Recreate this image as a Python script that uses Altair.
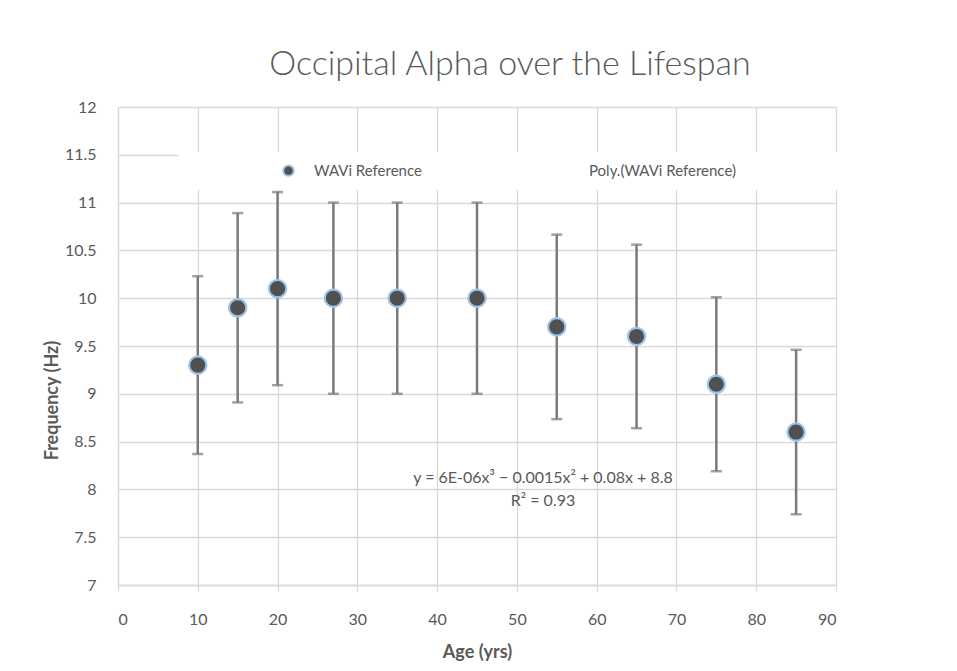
import altair as alt
import pandas as pd

# ---- data ----
ages = [10, 15, 20, 27, 35, 45, 55, 65, 75, 85]
freq = [9.3, 9.9, 10.1, 10.0, 10.0, 10.0, 9.7, 9.6, 9.1, 8.6]
err = [0.93, 0.99, 1.01, 1.0, 1.0, 1.0, 0.965, 0.96, 0.91, 0.86]
series_names = ["WAVi Reference", "Poly.(WAVi Reference)"]
x_ticks = list(range(0, 95, 5))
y_ticks = [7, 7.5, 8, 8.5, 9, 9.5, 10, 10.5, 11, 11.5, 12]
title_text = "Occipital Alpha over the Lifespan"
x_title = "Age (yrs)"
y_title = "Frequency (Hz)"
eq_line1 = "y = 6E-06x³ − 0.0015x² + 0.08x + 8.8"
eq_line2 = "R² = 0.93"

df = pd.DataFrame({
    "age": ages,
    "freq": freq,
    "lo": [f - e for f, e in zip(freq, err)],
    "hi": [f + e for f, e in zip(freq, err)],
    "series": [series_names[0]] * len(ages),
})

FONT = "Lato"
TXT = "#595959"
GRID = "#D9D9D9"

x_scale = alt.Scale(domain=[0, 90], nice=False, zero=False)
y_scale = alt.Scale(domain=[7, 12], nice=False, zero=False)

x_axis = alt.Axis(
    values=x_ticks,
    labelExpr="datum.value % 10 === 0 ? datum.label : ''",
    grid=True,
    gridColor=alt.condition("datum.value % 10 !== 0", alt.value("rgba(0,0,0,0)"), alt.value(GRID)),
    gridWidth=1.3,
    domainColor=GRID, domainWidth=1.3,
    tickColor=GRID, tickSize=6, tickWidth=1.3,
    labelFont=FONT, labelFontSize=16, labelColor=TXT, labelPadding=20,
    title=x_title, titleFont=FONT, titleFontSize=18, titleFontWeight="bold",
    titleColor=TXT, titlePadding=16,
)
y_axis = alt.Axis(
    values=y_ticks,
    format="~g",
    grid=True, gridColor=GRID, gridWidth=1.3,
    domainColor=GRID, domainWidth=1.3,
    ticks=False,
    labelFont=FONT, labelFontSize=16, labelColor=TXT, labelPadding=22,
    title=y_title, titleFont=FONT, titleFontSize=18, titleFontWeight="bold",
    titleColor=TXT, titleAngle=-90, titleX=-66, titleY=293,
    titleAlign="center", titleBaseline="middle",
)

base = alt.Chart(df)

# white legend panel that interrupts the gridlines
panel = alt.Chart(alt.Data(values=[{}])).mark_rect(fill="white").encode(
    x=alt.value(60), x2=alt.value(722), y=alt.value(45), y2=alt.value(83)
)

rules = base.mark_rule(color="#7A7A7A", strokeWidth=2.5).encode(
    x=alt.X("age:Q", scale=x_scale, axis=x_axis),
    y=alt.Y("lo:Q", scale=y_scale, axis=y_axis),
    y2="hi:Q",
)
caps_lo = base.mark_tick(color="#7A7A7A", orient="horizontal", size=11, thickness=2.5).encode(
    x=alt.X("age:Q", scale=x_scale), y=alt.Y("lo:Q", scale=y_scale)
)
caps_hi = base.mark_tick(color="#7A7A7A", orient="horizontal", size=11, thickness=2.5).encode(
    x=alt.X("age:Q", scale=x_scale), y=alt.Y("hi:Q", scale=y_scale)
)

legend = alt.Legend(
    title=None, orient="none", legendX=163, legendY=56, direction="horizontal",
    symbolType="circle", symbolSize=110, symbolStrokeWidth=2,
    labelFont=FONT, labelFontSize=15, labelColor=TXT, labelOffset=18,
    columnPadding=132, padding=0,
)
points = base.mark_circle(size=300, opacity=1, strokeWidth=2.2).encode(
    x=alt.X("age:Q", scale=x_scale),
    y=alt.Y("freq:Q", scale=y_scale),
    fill=alt.Fill("series:N", scale=alt.Scale(domain=series_names, range=["#505050", "rgba(0,0,0,0)"]), legend=legend),
    stroke=alt.Stroke("series:N", scale=alt.Scale(domain=series_names, range=["#9DC3E6", "rgba(0,0,0,0)"]), legend=legend),
)

eq1 = alt.Chart(alt.Data(values=[{}])).mark_text(
    font=FONT, fontSize=16, color=TXT, align="center", baseline="middle"
).encode(x=alt.value(425), y=alt.value(371), text=alt.value(eq_line1))
eq2 = alt.Chart(alt.Data(values=[{}])).mark_text(
    font=FONT, fontSize=16, color=TXT, align="center", baseline="middle"
).encode(x=alt.value(425), y=alt.value(394), text=alt.value(eq_line2))

chart = alt.layer(rules, caps_lo, caps_hi, points, panel, eq1, eq2).properties(
    width=718, height=478,
    autosize=alt.AutoSizeParams(type="none"),
    padding={"left": 110, "top": 99, "right": 112, "bottom": 78},
    background="white",
    title=alt.Title(title_text, font=FONT, fontSize=34, fontWeight=300, color=TXT,
                    anchor="middle", dx=33, dy=40, offset=30, baseline="alphabetic"),
).configure_view(strokeWidth=0)

chart.save("out.html", embed_options={"renderer": "svg", "actions": False})
